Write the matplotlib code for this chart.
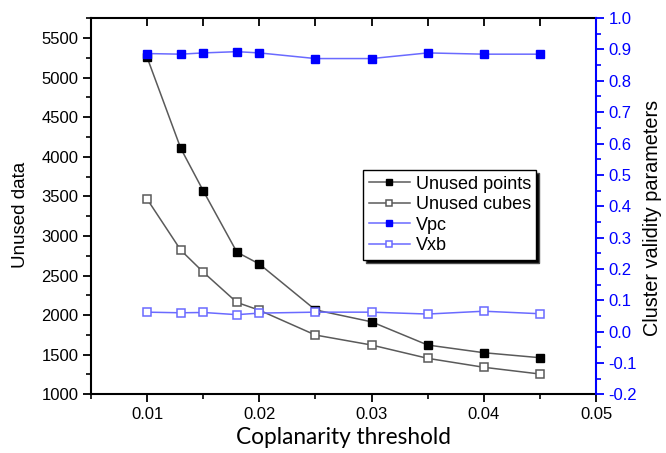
"""
Unused data and cluster validity parameters versus coplanarity threshold.
"""

import matplotlib
matplotlib.use('Agg')
import matplotlib.pyplot as plt
from matplotlib.ticker import MultipleLocator, FixedLocator, FuncFormatter


THRESHOLDS = [0.01, 0.013, 0.015, 0.018, 0.02, 0.025, 0.03, 0.035, 0.04, 0.045]

UNUSED_POINTS = [5255, 4105, 3570, 2795, 2645, 2065, 1915, 1622, 1525, 1462]
UNUSED_CUBES = [3465, 2820, 2543, 2160, 2062, 1748, 1622, 1454, 1341, 1256]

VPC = [0.887, 0.885, 0.889, 0.893, 0.889, 0.871, 0.871, 0.889, 0.885, 0.885]
VXB = [0.062, 0.060, 0.061, 0.054, 0.059, 0.062, 0.062, 0.056, 0.065, 0.057]

LEGEND_LABELS = ['Unused points', 'Unused cubes', 'Vpc', 'Vxb']

BLUE = '#0000ff'
LIGHT_BLUE = '#6a6aff'
GREY = '#5a5a5a'


def main():

    plt.rcParams['font.family'] = ['Liberation Sans', 'DejaVu Sans']

    fig = plt.figure(figsize=(6.66, 4.53), dpi=100)
    ax = fig.add_axes([0.1366, 0.1296, 0.7584, 0.8304])
    ax2 = ax.twinx()

    h1, = ax.plot(THRESHOLDS, UNUSED_POINTS, color=GREY, lw=1.1,
                  marker='s', ms=6, mfc='black', mec='black')
    h2, = ax.plot(THRESHOLDS, UNUSED_CUBES, color=GREY, lw=1.1,
                  marker='s', ms=6, mfc='white', mec=GREY, mew=1.1)
    h3, = ax2.plot(THRESHOLDS, VPC, color=LIGHT_BLUE, lw=1.1,
                   marker='s', ms=6, mfc=BLUE, mec=BLUE)
    h4, = ax2.plot(THRESHOLDS, VXB, color=LIGHT_BLUE, lw=1.1,
                   marker='s', ms=6, mfc='white', mec=LIGHT_BLUE, mew=1.1)

    ax.set_xlim(0.005, 0.05)
    ax.set_ylim(1000, 5750)
    ax2.set_ylim(-0.2, 1.0)

    ax.xaxis.set_major_locator(FixedLocator([0.01, 0.02, 0.03, 0.04, 0.05]))
    ax.xaxis.set_minor_locator(MultipleLocator(0.005))
    ax.xaxis.set_major_formatter(FuncFormatter(lambda v, p: f'{v:.2f}'))
    ax.yaxis.set_major_locator(MultipleLocator(500))
    ax.yaxis.set_minor_locator(MultipleLocator(250))
    ax2.yaxis.set_major_locator(MultipleLocator(0.1))
    ax2.yaxis.set_minor_locator(MultipleLocator(0.05))
    ax2.yaxis.set_major_formatter(FuncFormatter(lambda v, p: f'{v:.1f}'))

    ax.tick_params(which='major', direction='out', length=6, width=1.3,
                   labelsize=12, pad=3)
    ax.tick_params(which='minor', direction='out', length=3.5, width=1.2)
    ax2.tick_params(which='major', direction='out', length=6, width=1.3,
                    labelsize=12, colors=BLUE, pad=3)
    ax2.tick_params(which='minor', direction='out', length=3.5, width=1.2,
                    colors=BLUE)

    top = ax.secondary_xaxis('top')
    top.set_xticks([0.01, 0.015, 0.02, 0.025, 0.03, 0.035, 0.04, 0.045])
    top.tick_params(direction='in', length=6, width=1.3, labeltop=False)
    top.spines['top'].set_linewidth(1.5)

    for side in ['left', 'bottom']:
        ax.spines[side].set_linewidth(1.5)
    ax.spines['right'].set_visible(False)
    ax.spines['top'].set_visible(False)
    for side in ['left', 'top', 'bottom']:
        ax2.spines[side].set_visible(False)
    ax2.spines['right'].set_color(BLUE)
    ax2.spines['right'].set_linewidth(1.5)

    ax.set_xlabel('Coplanarity threshold', family=['Lato', 'DejaVu Sans'],
                  fontsize=16.3, labelpad=4)
    ax.set_ylabel('Unused data', fontsize=13.5)
    ax.yaxis.set_label_coords(-0.123, 0.476)
    ax2.set_ylabel('Cluster validity parameters', fontsize=14.3)
    ax2.yaxis.set_label_coords(1.093, 0.468)

    leg = ax2.legend([h1, h2, h3, h4], LEGEND_LABELS, loc='upper left',
                     bbox_to_anchor=(0.539, 0.596), fontsize=13,
                     frameon=True, fancybox=False, borderaxespad=0,
                     handlelength=2.3, handletextpad=0.3, labelspacing=0.2,
                     borderpad=0.3, markerscale=0.7,
                     shadow={'facecolor': 'black', 'alpha': 1.0})
    leg.get_frame().set_edgecolor('black')
    leg.get_frame().set_linewidth(1.0)

    fig.savefig('out.png', dpi=100)


if __name__ == '__main__':
    main()
